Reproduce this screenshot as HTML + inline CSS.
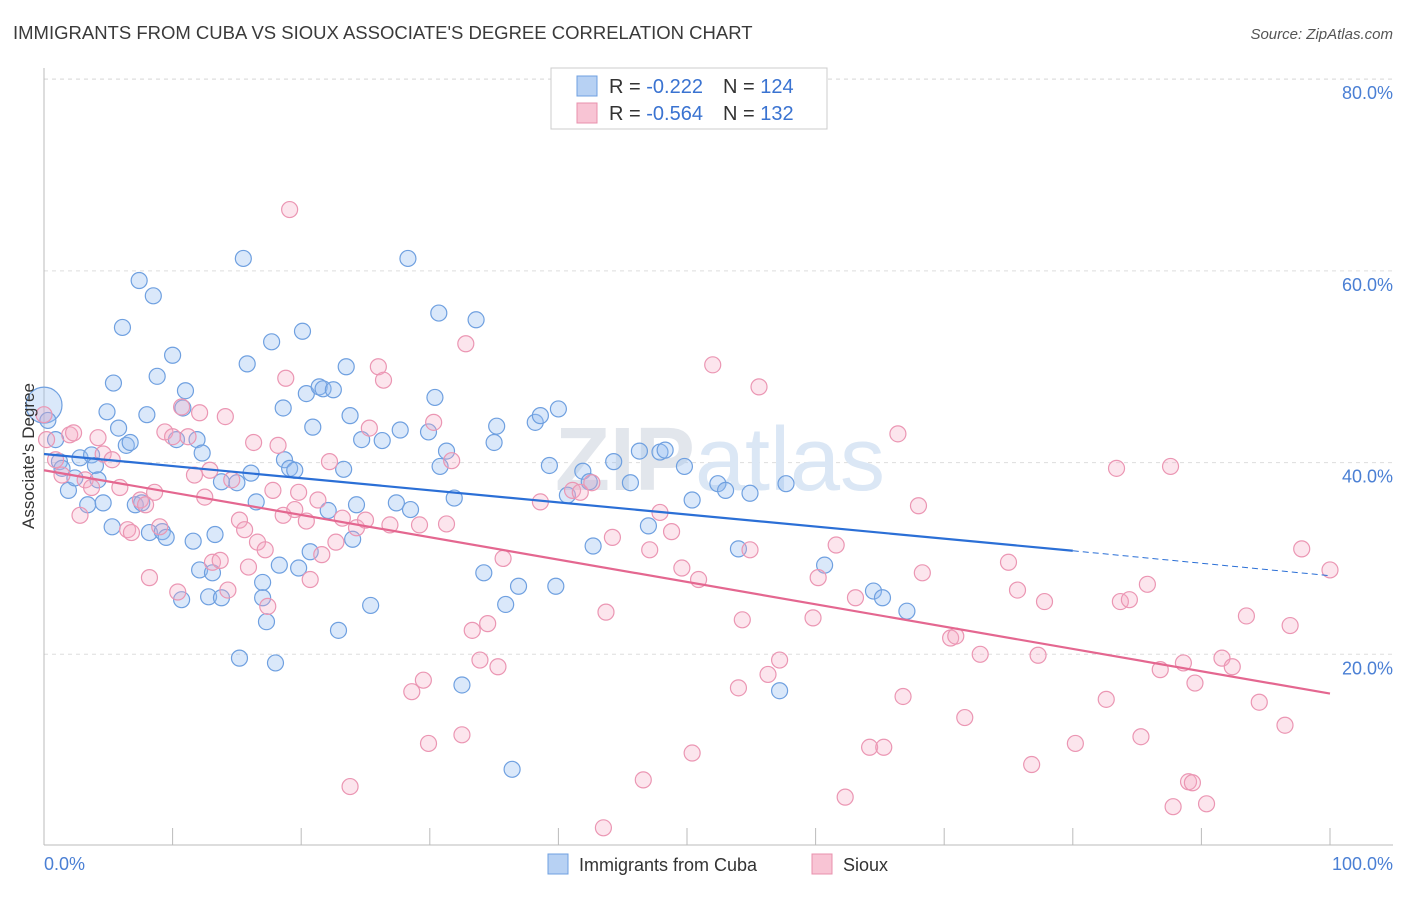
<!DOCTYPE html>
<html><head><meta charset="utf-8">
<style>
body{margin:0;background:#fff;font-family:"Liberation Sans",sans-serif;}
svg text{font-family:"Liberation Sans",sans-serif;}
</style></head>
<body>
<svg id="chart" width="1406" height="892" viewBox="0 0 1406 892" xmlns="http://www.w3.org/2000/svg">
<text x="13" y="39" font-size="18.5" fill="#3a3a3a">IMMIGRANTS FROM CUBA VS SIOUX ASSOCIATE'S DEGREE CORRELATION CHART</text>
<text x="1393" y="39" font-size="15" fill="#555" font-style="italic" text-anchor="end">Source: ZipAtlas.com</text>
<g id="grid"></g>
<text x="720" y="490" font-size="90" text-anchor="middle"><tspan fill="#e2e6ec" font-weight="bold">ZIP</tspan><tspan fill="#dbe7f5">atlas</tspan></text>
<g id="points"></g>
<g id="trends"></g>
<text x="34" y="456" font-size="17" fill="#333" text-anchor="middle" transform="rotate(-90 34 456)">Associate's Degree</text>
<text x="44" y="870" font-size="18" fill="#4a7fd4">0.0%</text>
<text x="1393" y="870" font-size="18" fill="#4a7fd4" text-anchor="end">100.0%</text>
<g>
<rect x="551" y="68" width="276" height="61" fill="#fff" stroke="#ccc"/>
<rect x="577" y="76" width="20" height="20" fill="#b7d1f3" stroke="#6fa0e0"/>
<rect x="577" y="103" width="20" height="20" fill="#f8c4d4" stroke="#e890ad"/>
<text x="609" y="93" font-size="20" fill="#333">R = <tspan fill="#3a73d1">-0.222</tspan><tspan dx="20">N = </tspan><tspan fill="#3a73d1">124</tspan></text>
<text x="609" y="120" font-size="20" fill="#333">R = <tspan fill="#3a73d1">-0.564</tspan><tspan dx="20">N = </tspan><tspan fill="#3a73d1">132</tspan></text>
</g>
<g>
<rect x="548" y="854" width="20" height="20" fill="#b7d1f3" stroke="#6fa0e0"/>
<text x="579" y="871" font-size="18" fill="#333">Immigrants from Cuba</text>
<rect x="812" y="854" width="20" height="20" fill="#f8c4d4" stroke="#e890ad"/>
<text x="843" y="871" font-size="18" fill="#333">Sioux</text>
</g>
</svg>
<script>
const yTicks=[20,40,60,80];
const xTicks=[0,10,20,30,40,50,60,70,80,90,100];
const cubaX=[0,0.3,0.9,1.2,1.4,1.9,2.4,2.8,3.4,3.7,4.0,4.2,4.6,4.9,5.3,5.4,5.8,6.1,6.4,6.7,7.1,7.4,7.6,8.0,8.2,8.5,8.8,9.2,9.5,10.0,10.3,10.7,10.8,11.0,11.6,11.9,12.1,12.3,12.8,13.1,13.3,13.8,13.8,15.0,15.2,15.5,15.8,16.1,16.5,17.0,17.0,17.3,17.7,18.0,18.3,18.6,18.7,19.1,19.5,19.8,20.1,20.4,20.7,20.9,21.4,21.7,22.1,22.5,22.9,23.3,23.5,23.8,24.0,24.3,24.7,25.4,26.3,27.4,27.7,28.3,28.5,29.9,30.4,30.7,30.8,31.3,31.9,32.5,33.6,34.2,35.0,35.2,35.9,36.4,36.9,38.2,38.6,39.3,39.8,40.0,40.7,41.9,42.4,42.7,44.3,45.6,46.3,47.0,47.9,48.3,49.8,50.4,52.4,53.0,54.0,54.9,57.2,57.7,60.7,64.5,65.2,67.1];
const cubaY=[46.0,44.4,42.4,40.1,39.4,37.1,38.4,40.5,35.6,40.8,39.7,38.2,35.8,45.3,33.3,48.3,43.6,54.1,41.8,42.1,35.6,59.0,35.8,45.0,32.7,57.4,49.0,32.8,32.2,51.2,42.4,25.7,45.7,47.5,31.8,42.4,28.8,41.0,26.0,28.5,32.5,25.9,38.0,37.9,19.6,61.3,50.3,38.9,35.9,27.5,25.9,23.4,52.6,19.1,29.3,45.7,40.3,39.4,39.2,29.0,53.7,47.2,30.7,43.7,47.9,47.7,35.0,47.6,22.5,39.3,50.0,44.9,32.0,35.6,42.4,25.1,42.3,35.8,43.4,61.3,35.1,43.2,46.8,55.6,39.6,41.2,36.3,16.8,54.9,28.5,42.1,43.8,25.2,8.0,27.1,44.2,44.9,39.7,27.1,45.6,36.6,39.1,38.0,31.3,40.1,37.9,41.2,33.4,41.1,41.3,39.6,36.1,37.8,37.1,31.0,36.8,16.2,37.8,29.3,26.6,25.9,24.5];
const siouxX=[0,0.2,0.9,1.4,2.0,2.3,2.8,3.2,3.7,4.2,4.6,5.3,5.9,6.5,6.8,7.5,7.9,8.2,8.6,9.0,9.4,10.0,10.4,10.7,11.2,11.7,12.1,12.5,12.9,13.1,13.7,14.1,14.3,14.6,15.2,15.6,15.9,16.3,16.6,17.2,17.4,17.8,18.2,18.6,18.8,19.1,19.5,19.8,20.4,20.7,21.3,21.6,22.2,22.7,23.2,23.8,24.3,25.0,25.3,26.0,26.4,26.9,28.6,29.2,29.5,29.9,30.3,31.3,31.7,32.5,32.8,33.3,33.9,34.5,35.3,35.7,38.6,41.1,41.7,42.6,43.5,43.7,44.2,46.6,47.1,47.9,48.8,49.6,50.4,50.9,52.0,54.0,54.3,54.9,55.6,56.3,57.2,59.8,60.2,61.6,62.3,63.1,64.2,65.3,66.4,66.8,68.0,68.3,70.5,70.9,71.6,72.8,75.0,75.7,76.8,77.3,77.8,80.2,82.6,83.4,83.7,84.4,85.3,85.8,86.8,87.6,87.8,88.6,89.0,89.3,89.5,90.4,91.6,92.4,93.5,94.5,96.5,96.9,97.8,100];
const siouxY=[45.0,42.4,40.3,38.7,42.9,43.1,34.5,38.2,37.4,42.6,40.9,40.3,37.4,33.0,32.7,36.1,35.6,28.0,36.9,33.3,43.2,42.7,26.5,45.8,42.7,38.7,45.2,36.4,39.2,29.6,29.8,44.8,26.7,38.2,34.0,33.0,29.1,42.1,31.7,30.9,25.0,37.1,41.8,34.5,48.8,66.4,35.1,36.9,33.9,27.8,36.1,30.4,40.1,31.7,34.2,6.2,33.2,34.0,43.6,50.0,48.6,33.5,16.1,33.5,17.3,10.7,44.2,33.6,40.2,11.6,52.4,22.5,19.4,23.2,18.7,30.0,35.9,37.1,36.9,37.9,1.9,24.4,32.2,6.9,30.9,34.8,32.8,29.0,9.7,27.8,50.2,16.5,23.6,30.9,47.9,17.9,19.4,23.8,28.0,31.4,5.1,25.9,10.3,10.3,43.0,15.6,35.5,28.5,21.7,21.9,13.4,20.0,29.6,26.7,8.5,19.9,25.5,10.7,15.3,39.4,25.5,25.7,11.4,27.3,18.4,39.6,4.1,19.1,6.7,6.6,17.0,4.4,19.6,18.7,24.0,15.0,12.6,23.0,31.0,28.8];
const cubaTrend=[40.9,30.8,28.2];
const cubaTrendX=[0,80,100];
const siouxTrend=[39.2,15.9];
const siouxTrendX=[0,100];

const NS="http://www.w3.org/2000/svg";
const X0=44,X1=1330,Y0=846,YS=9.585;
function sx(v){return X0+(X1-X0)*v/100;}
function sy(v){return Y0-v*YS;}
function mk(tag,attrs,parent){const e=document.createElementNS(NS,tag);for(const k in attrs)e.setAttribute(k,attrs[k]);parent.appendChild(e);return e;}
const gridG=document.getElementById('grid');
yTicks.forEach(t=>{
  const l=mk('line',{x1:44,x2:1393,y1:sy(t),y2:sy(t),stroke:'#ddd','stroke-dasharray':'4 4'},gridG);
  
  
  const tx=mk('text',{x:1393,y:sy(t)+20,'font-size':18,fill:'#4a7fd4','text-anchor':'end'},gridG);
  tx.textContent=t.toFixed(1)+'%';
  
  
});
const topLine=mk('line',{x1:44,x2:1393,y1:79,y2:79,stroke:'#ddd','stroke-dasharray':'4 4'},gridG);


const yAxisLine=mk('line',{x1:44,x2:44,y1:68,y2:845,stroke:'#bbb'},gridG);


const xAxisLine=mk('line',{x1:44,x2:1393,y1:845,y2:845,stroke:'#bbb'},gridG);


xTicks.forEach(t=>{
  const l=mk('line',{x1:sx(t),x2:sx(t),y1:828,y2:845,stroke:'#bbb'},gridG);
  
  
});
const ptsG=document.getElementById('points');
cubaX.forEach((x,i)=>{
  const c=mk('circle',{cx:sx(x),cy:sy(cubaY[i]),r:i===0?18:8,fill:'rgba(150,190,240,0.35)',stroke:'#6fa0e0','stroke-width':1.2},ptsG);
  
  
});
siouxX.forEach((x,i)=>{
  const c=mk('circle',{cx:sx(x),cy:sy(siouxY[i]),r:8,fill:'rgba(245,170,196,0.3)',stroke:'#eb96b3','stroke-width':1.2},ptsG);
  
  
});
const trG=document.getElementById('trends');
const b1=mk('line',{x1:sx(cubaTrendX[0]),y1:sy(cubaTrend[0]),x2:sx(cubaTrendX[1]),y2:sy(cubaTrend[1]),stroke:'#2b6fd6','stroke-width':2.2},trG);


const b2=mk('line',{x1:sx(cubaTrendX[1]),y1:sy(cubaTrend[1]),x2:sx(cubaTrendX[2]),y2:sy(cubaTrend[2]),stroke:'#2b6fd6','stroke-width':1,'stroke-dasharray':'6 4'},trG);


const p1=mk('line',{x1:sx(siouxTrendX[0]),y1:sy(siouxTrend[0]),x2:sx(siouxTrendX[1]),y2:sy(siouxTrend[1]),stroke:'#e46790','stroke-width':2.2},trG);


</script>
</body></html>
